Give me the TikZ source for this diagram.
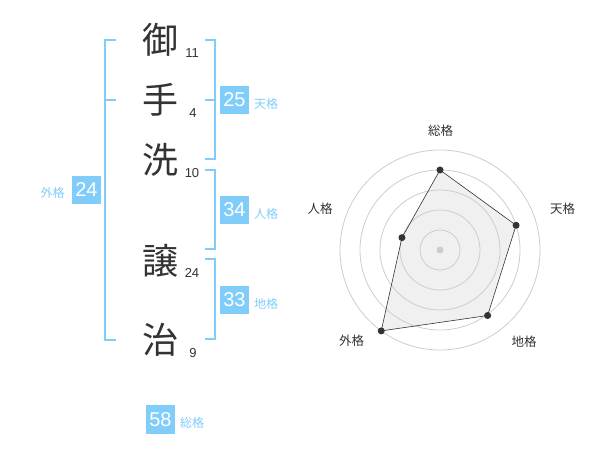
\documentclass[tikz,border=0pt]{standalone}
\usepackage{fontspec}
\setmainfont{Liberation Sans}
\newfontfamily\jpfont{Noto Sans CJK JP}
\definecolor{kakublue}{RGB}{128,205,250}
\definecolor{inkgray}{RGB}{51,51,51}
\definecolor{ringgray}{RGB}{205,205,205}
\definecolor{areagray}{RGB}{240,240,240}

\begin{document}
\begin{tikzpicture}[x=1pt,y=1pt,
    kanji/.style={font=\jpfont\fontsize{36}{36}\selectfont, text=inkgray, inner sep=0pt},
    strokes/.style={font=\fontsize{13}{13}\selectfont, text=inkgray, inner sep=0pt},
    kakubox/.style={fill=kakublue, text=white, minimum size=28.5pt, inner sep=0pt, font=\fontsize{20}{20}\selectfont},
    kakulabel/.style={font=\jpfont\fontsize{12}{12}\selectfont, text=kakublue, inner sep=0pt},
    axislabel/.style={font=\jpfont\fontsize{12.5}{12.5}\selectfont, text=inkgray, inner sep=0pt},
    bracket/.style={draw=kakublue, line width=2pt},
    ring/.style={draw=ringgray, line width=0.8pt},
    dot/.style={circle, fill=inkgray, inner sep=0pt, minimum size=7pt}]
        \useasboundingbox (0,0) rectangle (600,-470);
        % name characters and stroke counts
        \node [kanji] (k1) at (160,-40) {御};
        \node [strokes] (n1) at (192,-53) {11};
        \node [kanji] (k2) at (160,-100) {手};
        \node [strokes] (n2) at (193,-113) {4};
        \node [kanji] (k3) at (160,-160) {洗};
        \node [strokes] (n3) at (192,-173) {10};
        \node [kanji] (k4) at (160,-261) {譲};
        \node [strokes] (n4) at (192,-273) {24};
        \node [kanji] (k5) at (160,-340) {治};
        \node [strokes] (n5) at (193,-353) {9};
        % brackets
        \coordinate (gtop) at (105,-40);
        \coordinate (gmid) at (105,-100);
        \coordinate (gbot) at (105,-340);
        \draw [bracket] ([xshift=11pt]gtop) -- (gtop) -- (gbot) -- ([xshift=11pt]gbot);
        \draw [bracket] (gmid) -- ([xshift=11pt]gmid);
        \coordinate (ttop) at (215,-40);
        \coordinate (tmid) at (215,-100);
        \coordinate (tbot) at (215,-159.5);
        \draw [bracket] ([xshift=-10pt]ttop) -- (ttop) -- (tbot) -- ([xshift=-10pt]tbot);
        \draw [bracket] (tmid) -- ([xshift=-10pt]tmid);
        \coordinate (jtop) at (215,-170);
        \coordinate (jbot) at (215,-249.5);
        \draw [bracket] ([xshift=-10pt]jtop) -- (jtop) -- (jbot) -- ([xshift=-10pt]jbot);
        \coordinate (ctop) at (215,-259.5);
        \coordinate (cbot) at (215,-339.5);
        \draw [bracket] ([xshift=-10pt]ctop) -- (ctop) -- (cbot) -- ([xshift=-10pt]cbot);
        % totals
        \node [kakubox] (gai) at (86.5,-190) {24};
        \node [kakulabel] (gail) at (52.5,-193) {外格};
        \node [kakubox] (ten) at (234.5,-100) {25};
        \node [kakulabel] (tenl) at (266,-104) {天格};
        \node [kakubox] (jin) at (234.5,-210) {34};
        \node [kakulabel] (jinl) at (266,-214) {人格};
        \node [kakubox] (chi) at (234.5,-300) {33};
        \node [kakulabel] (chil) at (266,-304) {地格};
        \node [kakubox] (sou) at (160.5,-419.5) {58};
        \node [kakulabel] (soul) at (192,-423) {総格};
        % radar chart
        \begin{scope}[shift={(440,-250)}]
        \coordinate (psou) at (90:80);
        \coordinate (pten) at (18:80);
        \coordinate (pchi) at (-54:81);
        \coordinate (pgai) at (-126:100);
        \coordinate (pjin) at (162:40);
        \fill [areagray] (psou) -- (pten) -- (pchi) -- (pgai) -- (pjin) -- cycle;
        \foreach \r in {20,40,60,80,100}
            \draw [ring] (0,0) circle (\r);
        \fill [ringgray] (0,0) circle (3.5);
        \draw [inkgray, line width=0.6pt] (psou) -- (pten) -- (pchi) -- (pgai) -- (pjin) -- cycle;
        \foreach \p in {psou,pten,pchi,pgai,pjin}
            \node [dot] at (\p) {};
        \node [axislabel] (asou) at (0.7,119.3) {総格};
        \node [axislabel] (aten) at (122.7,41.3) {天格};
        \node [axislabel] (achi) at (84,-91.7) {地格};
        \node [axislabel] (agai) at (-88.3,-91) {外格};
        \node [axislabel] (ajin) at (-120,41.3) {人格};
        \end{scope}
\end{tikzpicture}
\end{document}
